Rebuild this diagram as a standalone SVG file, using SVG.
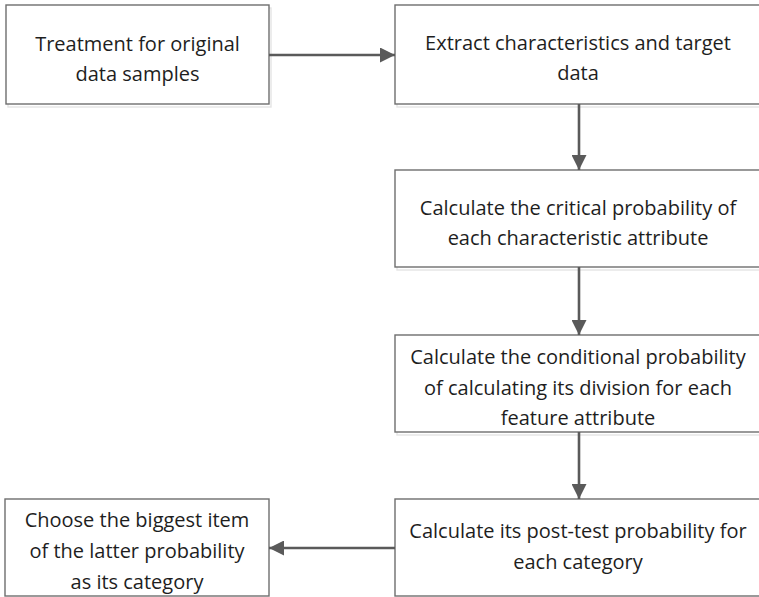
<svg xmlns="http://www.w3.org/2000/svg" width="759" height="597" viewBox="0 0 759 597">
<defs>
<style>
.box{fill:#ffffff;stroke:#6e6e6e;stroke-width:1.4}
.sh{fill:none;stroke:#e4e4e4;stroke-width:1.4}
.t{font-family:"Open Sans","Liberation Sans",Arial,sans-serif;font-size:20px;fill:#1e1e1e;text-anchor:middle}
.ln{stroke:#5a5a5a;stroke-width:2.6;fill:none}
</style>
<marker id="ah" viewBox="0 0 10 10" refX="10" refY="5" markerUnits="userSpaceOnUse" markerWidth="16" markerHeight="15" orient="auto">
<path d="M0,0 L10,5 L0,10 Z" fill="#5a5a5a"/>
</marker>
</defs>
<rect width="759" height="597" fill="#ffffff"/>

<g id="n1">
<rect class="sh" x="8" y="8" width="263" height="99"/>
<rect class="box" x="6" y="5" width="263" height="99"/>
<text class="t" x="137.5" y="51">Treatment for original</text>
<text class="t" x="137.5" y="81">data samples</text>
</g>

<g id="n2">
<rect class="sh" x="397" y="8" width="370" height="99"/>
<rect class="box" x="395" y="5" width="370" height="99"/>
<text class="t" x="578" y="50">Extract characteristics and target</text>
<text class="t" x="578" y="80">data</text>
</g>

<g id="n3">
<rect class="sh" x="397" y="173" width="370" height="97"/>
<rect class="box" x="395" y="170" width="370" height="97"/>
<text class="t" x="578" y="215">Calculate the critical probability of</text>
<text class="t" x="578" y="245">each characteristic attribute</text>
</g>

<g id="n4">
<rect class="sh" x="397" y="338" width="370" height="97"/>
<rect class="box" x="395" y="335" width="370" height="97"/>
<text class="t" x="578" y="364">Calculate the conditional probability</text>
<text class="t" x="578" y="395">of calculating its division for each</text>
<text class="t" x="578" y="425">feature attribute</text>
</g>

<g id="n5">
<rect class="box" x="395" y="499" width="370" height="97"/>
<text class="t" x="578" y="538">Calculate its post-test probability for</text>
<text class="t" x="578" y="569">each category</text>
</g>

<g id="n6">
<rect class="box" x="5" y="499" width="264" height="97"/>
<text class="t" x="137" y="527">Choose the biggest item</text>
<text class="t" x="137" y="558">of the latter probability</text>
<text class="t" x="137" y="589">as its category</text>
</g>

<g id="connectors">
<line class="ln" x1="269" y1="55" x2="395" y2="55" marker-end="url(#ah)"/>
<line class="ln" x1="579" y1="104" x2="579" y2="170" marker-end="url(#ah)"/>
<line class="ln" x1="579" y1="267" x2="579" y2="335" marker-end="url(#ah)"/>
<line class="ln" x1="579" y1="432" x2="579" y2="499" marker-end="url(#ah)"/>
<line class="ln" x1="395" y1="548" x2="269" y2="548" marker-end="url(#ah)"/>
</g>
</svg>
